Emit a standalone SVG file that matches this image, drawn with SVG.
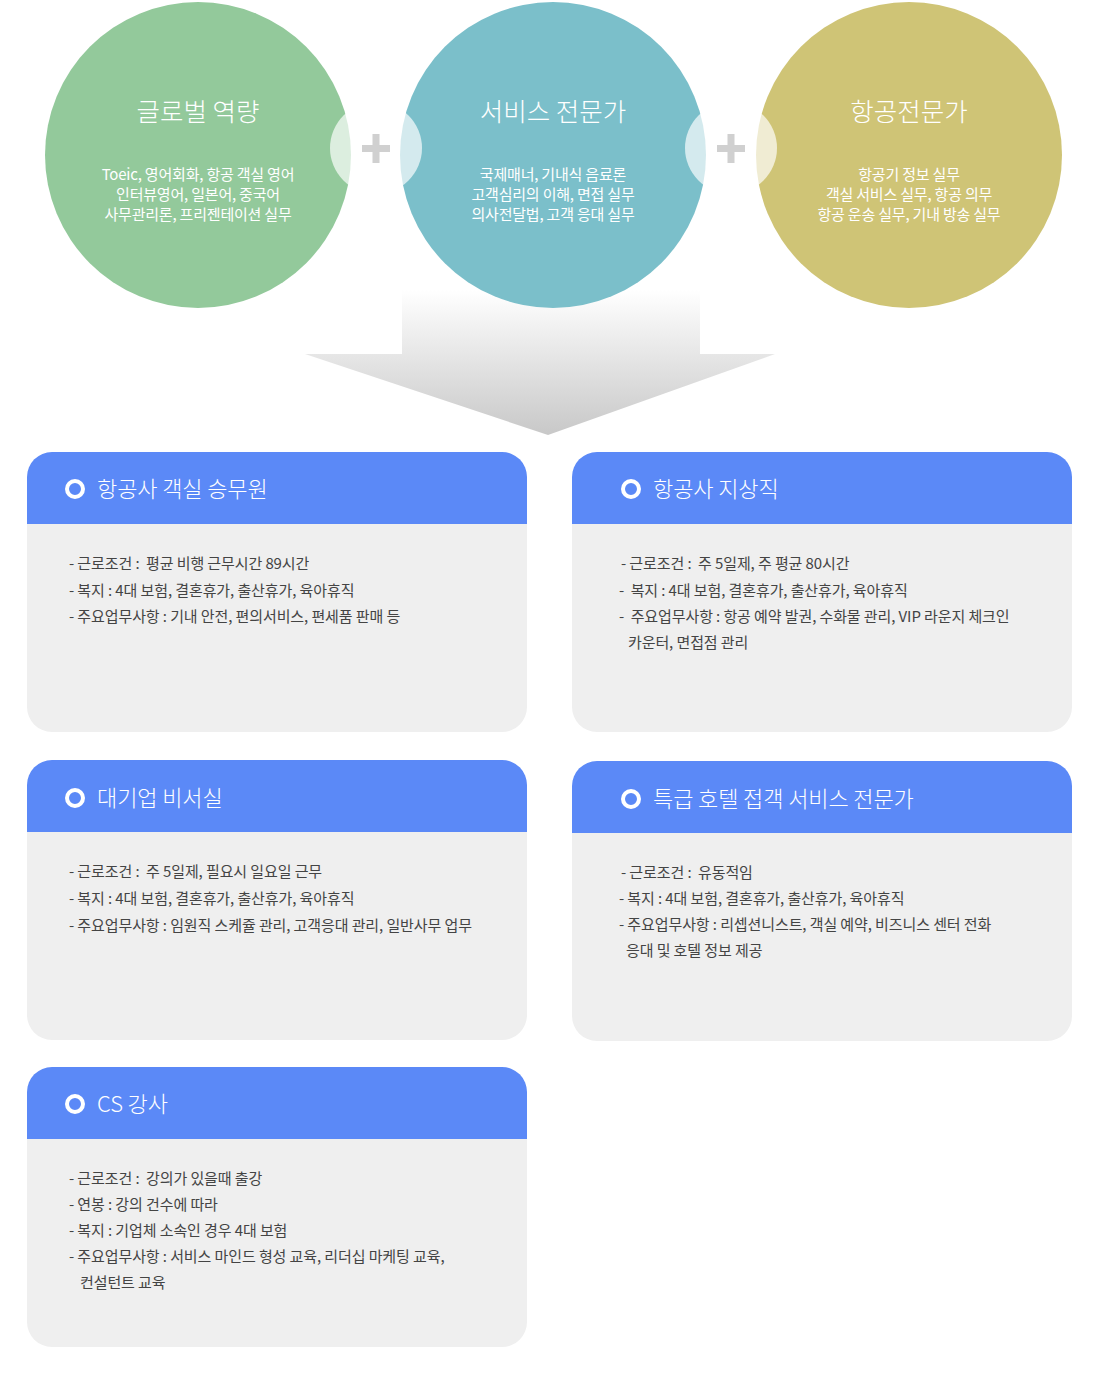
<svg xmlns="http://www.w3.org/2000/svg" width="1100" height="1376" viewBox="0 0 1100 1376">
<defs>
<style>
text{font-family:"Noto Sans CJK KR","Noto Sans",sans-serif;white-space:pre}
.ct{fill:#fff;font-size:25.5px;text-anchor:middle;font-weight:300}
.cs{fill:#fff;font-size:15px;text-anchor:middle;letter-spacing:-0.2px}
.hd{fill:#5b89f7}
.bd{fill:#efefef}
.ht{fill:#fff;font-size:22px;letter-spacing:-0.1px;font-weight:300}
.ic{fill:none;stroke:#fff;stroke-width:4}
.tx{fill:#444;font-size:15px;letter-spacing:-0.1px}
.lens{fill:#fff;fill-opacity:0.68}
.plus{fill:#d0d0d0}
</style>
<linearGradient id="ag" x1="0" y1="290" x2="0" y2="435" gradientUnits="userSpaceOnUse">
<stop offset="0" stop-color="#ffffff"/>
<stop offset="1" stop-color="#c8c8c8"/>
</linearGradient>
</defs>
<rect width="1100" height="1376" fill="#fff"/>

<g id="connectors">
<path d="M402 290 H700 V354 H775 L548 435 L305 354 H402 Z" fill="url(#ag)"/>
</g>

<g id="circle-global">
<circle cx="198" cy="155" r="153" fill="#93c99b"/>
<text class="ct" x="198" y="121">글로벌 역량</text>
<text class="cs" x="198" y="180">Toeic, 영어회화, 항공 객실 영어</text>
<text class="cs" x="198" y="200">인터뷰영어, 일본어, 중국어</text>
<text class="cs" x="198" y="220">사무관리론, 프리젠테이션 실무</text>
</g>
<g id="circle-service">
<circle cx="553" cy="155" r="153" fill="#7bbfca"/>
<text class="ct" x="553" y="121">서비스 전문가</text>
<text class="cs" x="553" y="180">국제매너, 기내식 음료론</text>
<text class="cs" x="553" y="200">고객심리의 이해, 면접 실무</text>
<text class="cs" x="553" y="220">의사전달법, 고객 응대 실무</text>
</g>
<g id="circle-aviation">
<circle cx="909" cy="155" r="153" fill="#cfc476"/>
<text class="ct" x="909" y="121">항공전문가</text>
<text class="cs" x="909" y="180">항공기 정보 실무</text>
<text class="cs" x="909" y="200">객실 서비스 실무, 항공 의무</text>
<text class="cs" x="909" y="220">항공 운송 실무, 기내 방송 실무</text>
</g>
<g id="plus-1">
<circle class="lens" cx="376" cy="148" r="46"/>
<rect class="plus" x="362" y="145" width="28" height="7"/>
<rect class="plus" x="372.5" y="134" width="7" height="29"/>
</g>
<g id="plus-2">
<circle class="lens" cx="731" cy="148" r="46"/>
<rect class="plus" x="717" y="145" width="28" height="7"/>
<rect class="plus" x="727.5" y="134" width="7" height="29"/>
</g>

<g id="card-cabin-crew">
<path class="bd" d="M27 524 H527 V707 A25 25 0 0 1 502 732 H52 A25 25 0 0 1 27 707 Z"/>
<path class="hd" d="M27 524 V477 A25 25 0 0 1 52 452 H502 A25 25 0 0 1 527 477 V524 Z"/>
<circle class="ic" cx="75" cy="489" r="8"/>
<text class="ht" x="97" y="497">항공사 객실 승무원</text>
<text class="tx" x="69" y="569">- 근로조건 :  평균 비행 근무시간 89시간</text>
<text class="tx" x="69" y="596">- 복지 : 4대 보험, 결혼휴가, 출산휴가, 육아휴직</text>
<text class="tx" x="69" y="622">- 주요업무사항 : 기내 안전, 편의서비스, 편세품 판매 등</text>
</g>

<g id="card-ground-staff">
<path class="bd" d="M572 524 H1072 V707 A25 25 0 0 1 1047 732 H597 A25 25 0 0 1 572 707 Z"/>
<path class="hd" d="M572 524 V477 A25 25 0 0 1 597 452 H1047 A25 25 0 0 1 1072 477 V524 Z"/>
<circle class="ic" cx="631" cy="489" r="8"/>
<text class="ht" x="653" y="497">항공사 지상직</text>
<text class="tx" x="621" y="569">- 근로조건 :  주 5일제, 주 평균 80시간</text>
<text class="tx" x="619" y="596">-  복지 : 4대 보험, 결혼휴가, 출산휴가, 육아휴직</text>
<text class="tx" x="619" y="622">-  주요업무사항 : 항공 예약 발권, 수화물 관리, VIP 라운지 체크인</text>
<text class="tx" x="628" y="648">카운터, 면접점 관리</text>
</g>

<g id="card-secretary">
<path class="bd" d="M27 832 H527 V1015 A25 25 0 0 1 502 1040 H52 A25 25 0 0 1 27 1015 Z"/>
<path class="hd" d="M27 832 V785 A25 25 0 0 1 52 760 H502 A25 25 0 0 1 527 785 V832 Z"/>
<circle class="ic" cx="75" cy="798" r="8"/>
<text class="ht" x="97" y="806">대기업 비서실</text>
<text class="tx" x="69" y="877">- 근로조건 :  주 5일제, 필요시 일요일 근무</text>
<text class="tx" x="69" y="904">- 복지 : 4대 보험, 결혼휴가, 출산휴가, 육아휴직</text>
<text class="tx" x="69" y="931">- 주요업무사항 : 임원직 스케쥴 관리, 고객응대 관리, 일반사무 업무</text>
</g>

<g id="card-hotel">
<path class="bd" d="M572 833 H1072 V1016 A25 25 0 0 1 1047 1041 H597 A25 25 0 0 1 572 1016 Z"/>
<path class="hd" d="M572 833 V786 A25 25 0 0 1 597 761 H1047 A25 25 0 0 1 1072 786 V833 Z"/>
<circle class="ic" cx="631" cy="799" r="8"/>
<text class="ht" x="653" y="807">특급 호텔 접객 서비스 전문가</text>
<text class="tx" x="621" y="878">- 근로조건 :  유동적임</text>
<text class="tx" x="619" y="904">- 복지 : 4대 보험, 결혼휴가, 출산휴가, 육아휴직</text>
<text class="tx" x="619" y="930">- 주요업무사항 : 리셉션니스트, 객실 예약, 비즈니스 센터 전화</text>
<text class="tx" x="626" y="956">응대 및 호텔 정보 제공</text>
</g>

<g id="card-cs-instructor">
<path class="bd" d="M27 1139 H527 V1322 A25 25 0 0 1 502 1347 H52 A25 25 0 0 1 27 1322 Z"/>
<path class="hd" d="M27 1139 V1092 A25 25 0 0 1 52 1067 H502 A25 25 0 0 1 527 1092 V1139 Z"/>
<circle class="ic" cx="75" cy="1104" r="8"/>
<text class="ht" x="97" y="1112">CS 강사</text>
<text class="tx" x="69" y="1184">- 근로조건 :  강의가 있을때 출강</text>
<text class="tx" x="69" y="1210">- 연봉 : 강의 건수에 따라</text>
<text class="tx" x="69" y="1236">- 복지 : 기업체 소속인 경우 4대 보험</text>
<text class="tx" x="69" y="1262">- 주요업무사항 : 서비스 마인드 형성 교육, 리더십 마케팅 교육,</text>
<text class="tx" x="80" y="1288">컨설턴트 교육</text>
</g>
</svg>
